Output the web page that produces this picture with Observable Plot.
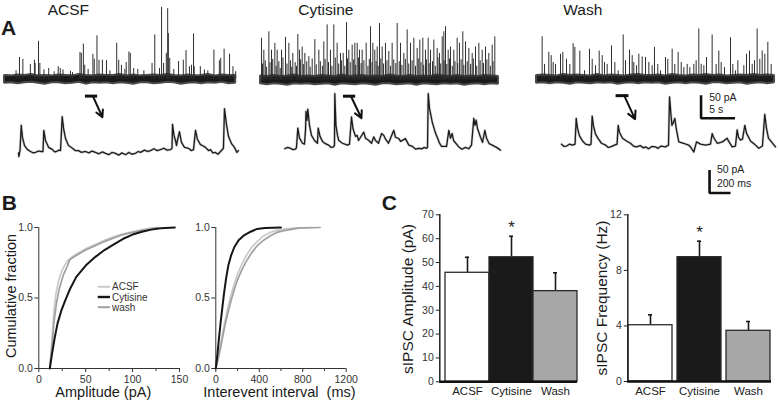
<!DOCTYPE html>
<html><head><meta charset="utf-8">
<script src="https://cdn.jsdelivr.net/npm/d3@7"></script>
<script src="https://cdn.jsdelivr.net/npm/@observablehq/plot@0.6"></script>
<style>
html,body{margin:0;padding:0;background:#fff;}
#root{position:relative;width:778px;height:407px;overflow:hidden;font-family:"Liberation Sans",Arial,Helvetica,sans-serif;}
.p{position:absolute;}
.p svg{overflow:visible;max-width:none !important;background:transparent;}
</style></head><body><div id="root"></div>
<script>
// ---------------- DATA ----------------
const conditions = ["ACSF", "Cytisine", "Wash"];

// Panel A, top traces: spontaneous events [time s, peak pA]
const acsfSpikes = [[1.7,18],[2.2,47],[2.7,43],[3.8,32],[4.4,41],[4.5,34],[5.0,82],[5.2,34],[5.8,20],[6.5,23],[7.3,16],[7.9,27],[8.2,23],[8.6,20],[9.7,17],[10.0,14],[11.1,58],[11.3,56],[11.6,76],[11.8,30],[12.3,21],[13.0,54],[13.2,43],[13.6,94],[13.9,41],[14.4,41],[15.0,40],[15.5,18],[16.5,78],[16.8,41],[17.2,30],[17.7,21],[17.9,36],[18.3,59],[18.5,56],[19.0,23],[19.6,21],[20.5,18],[21.7,34],[22.1,96],[22.8,23],[23.1,156],[23.4,34],[23.8,56],[24.0,153],[24.1,99],[24.3,45],[24.9,21],[25.6,38],[26.3,41],[26.7,62],[27.2,27],[27.5,30],[27.8,98],[27.9,27],[28.8,27],[29.4,20],[29.9,18],[30.8,63],[31.6,40],[31.8,45],[32.3,65],[33.1,54],[33.6,27],[34.0,16]];
const cytSpikes = [[0.15,91],[0.49,65],[1.23,105],[1.62,65],[2.11,80],[2.45,65],[3.09,65],[3.68,93],[4.17,80],[4.75,58],[5.49,99],[5.74,65],[6.13,72],[6.52,58],[7.11,51],[7.99,88],[8.58,65],[9.31,83],[9.8,120],[10.29,65],[10.78,120],[11.27,80],[11.76,58],[12.16,58],[12.65,125],[12.99,65],[13.48,76],[13.87,80],[14.22,80],[14.56,65],[14.95,65],[15.54,80],[16.18,116],[16.52,80],[16.81,65],[17.16,72],[17.5,123],[17.89,72],[18.38,80],[18.87,62],[19.36,80],[20.1,123],[20.59,80],[21.08,58],[21.57,109],[22.06,80],[22.55,91],[23.04,69],[23.43,87],[23.87,91],[24.26,65],[24.66,91],[25.0,65],[25.49,87],[25.98,69],[26.32,58],[26.72,94],[26.96,105],[27.21,116],[27.6,65],[27.94,72],[28.43,65],[28.92,91],[29.26,80],[29.75,105],[30.15,83],[30.64,69],[31.13,58],[31.62,72],[32.11,80],[32.6,65],[33.09,72],[33.58,58],[34.07,76],[34.46,94]];
const cytSmallSpikes = [[0.3,35],[0.7,42],[0.9,28],[1.4,38],[1.8,45],[2.3,30],[2.7,40],[2.9,25],[3.3,48],[3.9,35],[4.4,42],[4.6,28],[5.1,38],[5.3,30],[5.9,44],[6.3,34],[6.8,40],[7.3,28],[7.6,46],[8.2,33],[8.8,40],[9.1,30],[9.5,45],[10.0,38],[10.5,30],[11.0,48],[11.5,35],[11.9,42],[12.4,30],[12.8,46],[13.2,38],[13.7,44],[14.0,32],[14.4,48],[14.8,36],[15.2,42],[15.8,30],[16.0,45],[16.4,38],[17.0,40],[17.3,30],[17.7,46],[18.1,35],[18.6,42],[19.1,30],[19.6,44],[19.9,36],[20.4,40],[20.8,32],[21.3,45],[21.8,35],[22.3,42],[22.8,30],[23.2,46],[23.6,38],[24.0,32],[24.4,44],[24.8,36],[25.3,40],[25.7,30],[26.1,48],[26.5,35],[27.0,42],[27.4,34],[27.8,46],[28.2,30],[28.6,40],[29.0,36],[29.5,44],[29.9,32],[30.4,40],[30.9,34],[31.3,46],[31.8,30],[32.3,42],[32.8,36],[33.3,44],[33.8,30],[34.2,40]];
const washSpikes = [[0.83,92],[1.18,32],[1.81,58],[2.16,51],[2.45,36],[2.79,32],[3.53,54],[3.87,58],[4.41,43],[4.9,32],[5.39,77],[5.64,69],[6.37,61],[7.06,18],[7.79,65],[8.19,43],[8.68,29],[9.22,61],[9.66,51],[10.0,36],[10.39,32],[11.03,72],[11.52,36],[12.01,18],[12.75,96],[13.09,40],[13.68,63],[14.07,51],[14.31,36],[14.71,29],[15.05,54],[15.54,48],[16.03,47],[16.52,36],[17.01,29],[17.35,69],[17.84,32],[18.24,18],[18.97,47],[19.31,43],[19.95,65],[20.34,32],[20.83,58],[21.28,36],[21.67,25],[22.16,32],[22.55,25],[23.14,32],[23.48,40],[23.87,109],[24.22,32],[24.61,29],[25.0,47],[25.83,96],[26.42,32],[26.81,61],[27.16,36],[27.65,25],[28.53,90],[28.87,32],[29.26,18],[29.61,40],[30.49,29],[30.88,54],[31.32,61],[31.72,32],[32.06,40],[32.45,109],[32.84,43],[33.19,61],[33.58,54],[34.02,80],[34.51,32]];
// baseline noise envelope, one value per second [pA]
const acsfNoiseHi = [8,7,9,8,10,7,8,7,9,8,7,10,8,7,9,8,8,10,7,9,7,8,9,8,10,8,7,9,7,8,10,7,9,8,8];
const acsfNoiseLo = [-9,-8,-10,-8,-7,-9,-11,-8,-8,-10,-9,-7,-11,-8,-9,-8,-10,-8,-9,-11,-8,-8,-10,-9,-7,-8,-11,-9,-8,-10,-8,-9,-7,-10,-9];
const cytNoiseHi = [9,8,10,8,9,11,8,9,8,10,9,8,11,8,9,10,8,9,8,11,9,8,10,8,9,8,11,9,8,10,8,9,8,10,9,8];
const cytNoiseLo = [-8,-10,-8,-9,-11,-8,-9,-8,-10,-9,-8,-11,-8,-9,-10,-8,-9,-11,-8,-8,-10,-9,-8,-11,-8,-9,-10,-8,-9,-8,-11,-9,-8,-10,-8,-9];
const washNoiseHi = [8,9,8,7,10,8,9,8,7,10,7,9,8,7,9,10,8,8,9,7,10,8,7,9,8,10,8,9,7,8,9,8,10,8,9,8];
const washNoiseLo = [-9,-8,-10,-8,-9,-11,-8,-9,-10,-8,-9,-8,-11,-9,-8,-10,-8,-9,-8,-11,-9,-8,-10,-8,-9,-11,-8,-8,-10,-9,-8,-11,-9,-8,-10,-8];
// expanded segment markers [s, pA]
const acsfExpand = {t1:11.9, t2:13.7, t0:13.0, yBar:-37, tArrow:14.4, yArrow:-83};
const cytExpand  = {t1:12.2, t2:14.0, t0:13.3, yBar:-35, tArrow:14.85, yArrow:-83};
const washExpand = {t1:11.7, t2:13.6, t0:12.9, yBar:-36, tArrow:14.5, yArrow:-87};
const slowScaleBar = {t0:24.2, y0:-85, dt:5, dy:50, yText:"50 pA", xText:"5 s"};

// Panel A, expanded sweeps [time ms, pA]
const acsfSweep = [[0,-3],[3,-11],[14,2],[26,57],[38,30],[57,13],[86,4],[114,0],[140,-3],[162,-2],[190,1],[210,0],[233,0],[241,46],[257,24],[286,9],[324,4],[345,-1],[362,0],[385,3],[400,2],[416,76],[429,50],[448,28],[476,13],[514,7],[540,2],[571,2],[600,-2],[638,0],[670,-3],[700,1],[733,-2],[765,-5],[800,-1],[829,-4],[860,-7],[890,-2],[924,-4],[955,-8],[985,-3],[1019,-7],[1050,-2],[1080,-6],[1114,-4],[1140,0],[1162,-2],[1200,3],[1230,0],[1257,2],[1290,6],[1320,2],[1352,4],[1385,7],[1415,3],[1448,4],[1462,7],[1467,59],[1481,35],[1495,24],[1505,13],[1514,24],[1533,43],[1552,20],[1581,9],[1619,7],[1645,2],[1667,4],[1686,46],[1705,26],[1733,15],[1760,12],[1781,9],[1810,2],[1829,4],[1850,-3],[1876,-2],[1900,-6],[1924,0],[1952,7],[1962,93],[1981,59],[2000,33],[2029,17],[2057,9],[2080,-2],[2095,2]];
const cytSweep = [[3,-1],[30,2],[57,0],[80,-3],[105,-2],[114,2],[127,44],[143,22],[171,11],[190,9],[200,39],[205,80],[214,61],[222,85],[238,50],[257,28],[286,17],[314,11],[321,44],[338,26],[362,15],[390,10],[419,7],[445,2],[467,3],[476,7],[479,119],[490,50],[505,28],[517,17],[552,11],[600,7],[619,9],[638,68],[652,43],[676,26],[692,28],[705,17],[755,35],[771,22],[803,17],[829,11],[850,25],[867,17],[895,11],[924,32],[946,28],[962,20],[990,11],[1041,39],[1057,24],[1089,21],[1105,15],[1152,21],[1184,7],[1219,4],[1250,-2],[1276,0],[1311,-1],[1330,2],[1352,0],[1362,2],[1369,119],[1381,87],[1407,57],[1438,33],[1467,17],[1470,14],[1495,4],[1543,4],[1565,39],[1581,22],[1597,32],[1610,17],[1660,3],[1690,-2],[1724,2],[1755,-1],[1781,7],[1803,65],[1814,50],[1826,61],[1838,43],[1867,24],[1886,13],[1908,39],[1924,22],[1950,10],[1978,7],[2019,2],[2057,-4]];
const washSweep = [[0,2],[25,-3],[48,-2],[75,2],[105,0],[129,2],[140,58],[152,37],[171,20],[200,9],[229,2],[267,0],[281,2],[292,63],[305,41],[324,24],[352,13],[381,4],[419,0],[445,-5],[467,-4],[505,0],[529,2],[540,43],[552,28],[581,15],[619,9],[657,4],[685,-2],[714,-4],[750,-1],[780,-6],[800,-4],[830,-8],[860,-3],[895,-4],[920,-7],[950,-2],[990,-4],[1019,0],[1029,105],[1043,65],[1052,43],[1067,50],[1079,58],[1095,33],[1117,7],[1162,4],[1210,0],[1229,-4],[1260,-15],[1286,7],[1324,2],[1371,0],[1419,2],[1435,25],[1448,17],[1483,4],[1533,7],[1578,15],[1590,9],[1626,-4],[1657,-2],[1673,33],[1686,17],[1705,11],[1724,13],[1746,43],[1762,26],[1800,9],[1848,0],[1879,-7],[1914,-2],[1936,67],[1952,37],[1971,15],[2000,7],[2038,-4]];
const fastScaleBar = {t0:1410, y0:-104, dt:200, dy:50, yText:"50 pA", xText:"200 ms"};

// Panel B: cumulative distributions [value, fraction]
const ampAcsf = [[11.7,0],[14,0.2],[16,0.4],[18,0.52],[21,0.62],[25,0.7],[30,0.76],[35,0.79],[40,0.81],[50,0.85],[60,0.88],[70,0.91],[80,0.935],[90,0.955],[100,0.97],[110,0.985],[120,0.995],[128,1.0]];
const ampCyt = [[11.7,0],[14,0.1],[17,0.22],[20,0.32],[24,0.41],[28,0.48],[33,0.56],[40,0.65],[50,0.73],[60,0.79],[70,0.84],[80,0.88],[90,0.92],[100,0.95],[110,0.97],[120,0.985],[130,0.995],[145,1.0]];
const ampWash = [[11.7,0],[14,0.15],[16,0.32],[19,0.47],[22,0.57],[26,0.66],[30,0.72],[33,0.77],[36,0.785],[42,0.81],[50,0.84],[60,0.87],[70,0.9],[80,0.925],[90,0.95],[100,0.965],[110,0.98],[120,0.99],[126,1.0]];
const iviAcsf = [[0,0],[20,0.07],[50,0.2],[80,0.32],[110,0.43],[140,0.52],[170,0.6],[200,0.67],[240,0.74],[280,0.8],[330,0.86],[380,0.9],[440,0.94],[500,0.965],[560,0.98],[640,0.99],[760,0.998],[880,1.0]];
const iviCyt = [[0,0],[15,0.1],[30,0.22],[45,0.33],[60,0.43],[75,0.53],[95,0.64],[115,0.73],[140,0.8],[170,0.86],[210,0.91],[260,0.945],[320,0.97],[380,0.99],[450,0.997],[600,1.0]];
const iviWash = [[0,0],[20,0.06],[50,0.17],[80,0.29],[110,0.39],[140,0.48],[170,0.56],[200,0.63],[240,0.7],[280,0.76],[330,0.82],[380,0.87],[440,0.91],[500,0.94],[560,0.965],[640,0.98],[760,0.995],[960,1.0]];
const ampTicks = [0, 50, 100, 150], ampMinorTicks = [25, 75, 125];
const iviTicks = [0, 400, 800, 1200], iviMinorTicks = [200, 600, 1000];
const fracTicks = [0, 0.5, 1];
const legendNames = ["ACSF", "Cytisine", "wash"];

// Panel C: mean ± SEM
const ampMean = [45.7, 52.2, 38.0], ampSem = [6.5, 8.8, 7.7];
const freqMean = [4.05, 8.95, 3.65], freqSem = [0.75, 1.15, 0.67];
const ampStar = 64.8, freqStar = 10.75;
const ampTicksC = [0,10,20,30,40,50,60,70], freqTicksC = [0,4,8,12];

// ---------------- STYLE ----------------
const FONT = "'Liberation Sans', Arial, Helvetica, sans-serif";
const baseStyle = {background:"transparent", overflow:"visible", fontFamily:FONT, color:"#222"};
const cdfColor = {ACSF:"#c9c9c9", Cytisine:"#161616", wash:"#a0a0a0"};
const barColor = ["#ffffff", "#1a1a1a", "#a7a7a7"];
const PX_PER_S = 6.8, PX_PER_PA = 0.46, PX_PER_MS = 0.105;

const root = document.getElementById("root");
function place(node, left, top){
  const d = document.createElement("div");
  d.className = "p"; d.style.left = left + "px"; d.style.top = top + "px";
  d.appendChild(node); root.appendChild(d);
}

// ---------------- PANEL A ----------------
const TOP_MIN = -95, TOP_MAX = 160;
function topTrace({spikes, small = [], hi, lo, tMax, expand, scale}) {
  const band = hi.map((h, i) => ({t: i, hi: h, lo: lo[i]}));
  const marks = [
    Plot.areaY(band, {x: "t", y1: "lo", y2: "hi", fill: "#1a1a1a", stroke: "#4a4a4a", strokeWidth: 2, strokeLinejoin: "bevel"}),
    Plot.ruleX(small, {x: d => d[0], y1: d => 0, y2: d => d[1], stroke: "#2a2a2a", strokeWidth: 1}),
    Plot.ruleX(spikes, {x: d => d[0], y1: d => 0, y2: d => d[1], stroke: "#2e2e2e", strokeWidth: 1}),
    Plot.ruleY([expand], {x1: "t1", x2: "t2", y: "yBar", stroke: "#111", strokeWidth: 3}),
    Plot.arrow([expand], {x1: "t0", y1: "yBar", x2: "tArrow", y2: "yArrow", stroke: "#111", strokeWidth: 2, headLength: 7, headAngle: 55})
  ];
  if (scale) marks.push(...scaleBarMarks(scale, 1.2, 44, 18));
  return Plot.plot({
    width: tMax * PX_PER_S, height: (TOP_MAX - TOP_MIN) * PX_PER_PA, margin: 0,
    x: {domain: [0, tMax], axis: null}, y: {domain: [TOP_MIN, TOP_MAX], axis: null},
    style: baseStyle, marks
  });
}
function scaleBarMarks(s, textDx, yTextDy, xTextDy) {
  const corner = [[s.t0, s.y0 + s.dy], [s.t0, s.y0], [s.t0 + s.dt, s.y0]];
  return [
    Plot.line(corner, {x: d => d[0], y: d => d[1], stroke: "#111", strokeWidth: 2.6, strokeLinejoin: "miter", strokeLinecap: "butt"}),
    Plot.text([s], {x: d => d.t0 + textDx, y: d => d.y0 + yTextDy, text: "yText", textAnchor: "start", fontSize: 10.5, fill: "#222"}),
    Plot.text([s], {x: d => d.t0 + textDx, y: d => d.y0 + xTextDy, text: "xText", textAnchor: "start", fontSize: 10.5, fill: "#222"})
  ];
}
function sweep(data, tMax, yMin, yMax, scale) {
  const marks = [
    Plot.line(data, {x: d => d[0], y: d => d[1], stroke: "#777", strokeOpacity: 0.35, strokeWidth: 2.6}),
    Plot.line(data, {x: d => d[0], y: d => d[1], stroke: "#1c1c1c", strokeWidth: 1.3, strokeLinejoin: "round"})
  ];
  if (scale) marks.push(...scaleBarMarks(scale, 70, 50, 20));
  return Plot.plot({
    width: tMax * PX_PER_MS, height: (yMax - yMin) * PX_PER_PA, margin: 0,
    x: {domain: [0, tMax], axis: null}, y: {domain: [yMin, yMax], axis: null},
    style: baseStyle, marks
  });
}
place(topTrace({spikes: acsfSpikes, hi: acsfNoiseHi, lo: acsfNoiseLo, tMax: 34.4, expand: acsfExpand}), 4, 79 - TOP_MAX * PX_PER_PA);
place(topTrace({spikes: cytSpikes, small: cytSmallSpikes, hi: cytNoiseHi, lo: cytNoiseLo, tMax: 35, expand: cytExpand}), 260, 80 - TOP_MAX * PX_PER_PA);
place(topTrace({spikes: washSpikes, hi: washNoiseHi, lo: washNoiseLo, tMax: 35, expand: washExpand, scale: slowScaleBar}), 536, 78.3 - TOP_MAX * PX_PER_PA);
place(sweep(acsfSweep, 2100, -20, 100), 18, 151 - 100 * PX_PER_PA);
place(sweep(cytSweep, 2100, -20, 130), 284, 148 - 130 * PX_PER_PA);
place(sweep(washSweep, 2060, -110, 110, fastScaleBar), 561, 145 - 110 * PX_PER_PA);

// ---------------- PANEL B ----------------
function cdfPlot({series, xMax, ticks, minor, width, marginLeft, marginRight}) {
  const marks = [
    Plot.axisX({ticks: minor, tickSize: 3, tickFormat: () => "", label: null, stroke: "#333"}),
    Plot.axisX({ticks, tickSize: 4, tickPadding: 3, tickFormat: d => String(d), fontSize: 10.5, label: null, stroke: "#333", fill: "#333"}),
    Plot.axisY({ticks: fracTicks, tickSize: 4, tickPadding: 2, tickFormat: d3.format(".1f"), fontSize: 10.5, label: null, stroke: "#333", fill: "#333"}),
    Plot.ruleX([0], {stroke: "#333", strokeWidth: 1}),
    Plot.ruleY([0], {stroke: "#333", strokeWidth: 1})
  ];
  for (const [name, data] of series) {
    marks.push(Plot.line(data, {x: d => d[0], y: d => d[1], stroke: cdfColor[name], strokeWidth: name === "Cytisine" ? 2 : 1.7}));
  }
  return Plot.plot({
    width, height: 195, marginLeft, marginRight, marginTop: 12, marginBottom: 42,
    x: {domain: [0, xMax]}, y: {domain: [0, 1]}, style: baseStyle, marks
  });
}
place(cdfPlot({series: [["ACSF", ampAcsf], ["wash", ampWash], ["Cytisine", ampCyt]], xMax: 150, ticks: ampTicks, minor: ampMinorTicks, width: 190, marginLeft: 38.3, marginRight: 11}), 0, 215);
place(cdfPlot({series: [["ACSF", iviAcsf], ["wash", iviWash], ["Cytisine", iviCyt]], xMax: 1200, ticks: iviTicks, minor: iviMinorTicks, width: 166, marginLeft: 25.3, marginRight: 10.3}), 190, 215);

// ---------------- PANEL C ----------------
function barPlot({mean, sem, star, yMax, ticks, width, marginLeft, marginRight, marginBottom, xScale, capInset}) {
  const data = conditions.map((c, i) => ({cond: c, mean: mean[i], top: mean[i] + sem[i]}));
  return Plot.plot({
    width, height: 195, marginLeft, marginRight, marginTop: 9.3, marginBottom,
    x: {domain: conditions, ...xScale}, y: {domain: [0, yMax]},
    color: {domain: conditions, range: barColor},
    style: baseStyle,
    marks: [
      Plot.ruleX(data, {x: "cond", y1: "mean", y2: "top", stroke: "#1a1a1a", strokeWidth: 1.6}),
      Plot.tickY(data, {x: "cond", y: "top", stroke: "#1a1a1a", strokeWidth: 1.6, insetLeft: capInset, insetRight: capInset}),
      Plot.barY(data, {x: "cond", y: "mean", fill: "cond", stroke: "#2a2a2a", strokeWidth: 1.3}),
      Plot.text([{cond: "Cytisine", y: star}], {x: "cond", y: "y", text: () => "*", fontSize: 17, fill: "#222"}),
      Plot.axisX({tickSize: 0, tickPadding: 5, fontSize: 11.5, label: null, fill: "#222"}),
      Plot.axisY({ticks, tickSize: 3.5, tickPadding: 2.5, fontSize: 10.5, label: null, fill: "#333", stroke: "#222"}),
      Plot.frame({anchor: "left", stroke: "#222", strokeWidth: 1.5}),
      Plot.ruleY([0], {stroke: "#111", strokeWidth: 2.6})
    ]
  });
}
place(barPlot({mean: ampMean, sem: ampSem, star: ampStar, yMax: 70, ticks: ampTicksC, width: 205, marginLeft: 59.3, marginRight: 8, marginBottom: 18.7, xScale: {padding: 0, insetLeft: 4.7}, capInset: 20}), 380, 205);
place(barPlot({mean: freqMean, sem: freqSem, star: freqStar, yMax: 12, ticks: freqTicksC, width: 193, marginLeft: 42.3, marginRight: 7, marginBottom: 19, xScale: {paddingInner: 0.1, paddingOuter: 0}, capInset: 20}), 585, 205);

// ---------------- TEXT OVERLAY (titles, axis labels, legend) ----------------
const labels = [
  {text: "A", x: 1, y: 35, size: 21, weight: "bold"},
  {text: "B", x: 1.7, y: 210, size: 21, weight: "bold"},
  {text: "C", x: 381.7, y: 209.5, size: 21, weight: "bold"},
  {text: "ACSF", x: 47.7, y: 15, size: 15.5},
  {text: "Cytisine", x: 298.3, y: 15, size: 15.5},
  {text: "Wash", x: 563.3, y: 15, size: 15.5},
  {text: "Cumulative fraction", x: 16, y: 296, size: 14.5, rotate: true},
  {text: "Amplitude (pA)", x: 103.3, y: 397, size: 14.5, anchor: "middle"},
  {text: "Interevent interval\u00a0\u00a0(ms)", x: 203.3, y: 397, size: 14.5},
  {text: "sIPSC Amplitude (pA)", x: 413.3, y: 299, size: 15.5, rotate: true},
  {text: "sIPSC Frequency (Hz)", x: 606.7, y: 298, size: 15.5, rotate: true}
];
const legendY = [286.8, 297, 307.2];
const svg = d3.select(root).append("svg")
  .attr("width", 778).attr("height", 407)
  .style("position", "absolute").style("left", 0).style("top", 0)
  .style("pointer-events", "none").style("font-family", FONT);
svg.selectAll("text.lab").data(labels).join("text")
  .attr("class", "lab")
  .attr("transform", d => d.rotate ? `translate(${d.x},${d.y}) rotate(-90)` : `translate(${d.x},${d.y})`)
  .attr("text-anchor", d => d.rotate ? "middle" : (d.anchor || "start"))
  .attr("font-size", d => d.size).attr("font-weight", d => d.weight || "normal")
  .attr("fill", "#1a1a1a").text(d => d.text);
const leg = svg.append("g");
legendNames.forEach((n, i) => {
  leg.append("line").attr("x1", 97.7).attr("x2", 110).attr("y1", legendY[i]).attr("y2", legendY[i])
    .attr("stroke", cdfColor[n]).attr("stroke-width", n === "Cytisine" ? 2.4 : 2);
  leg.append("text").attr("x", 112).attr("y", legendY[i]).attr("dy", "0.35em")
    .attr("font-size", 10).attr("fill", "#333").text(n);
});
</script></body></html>
